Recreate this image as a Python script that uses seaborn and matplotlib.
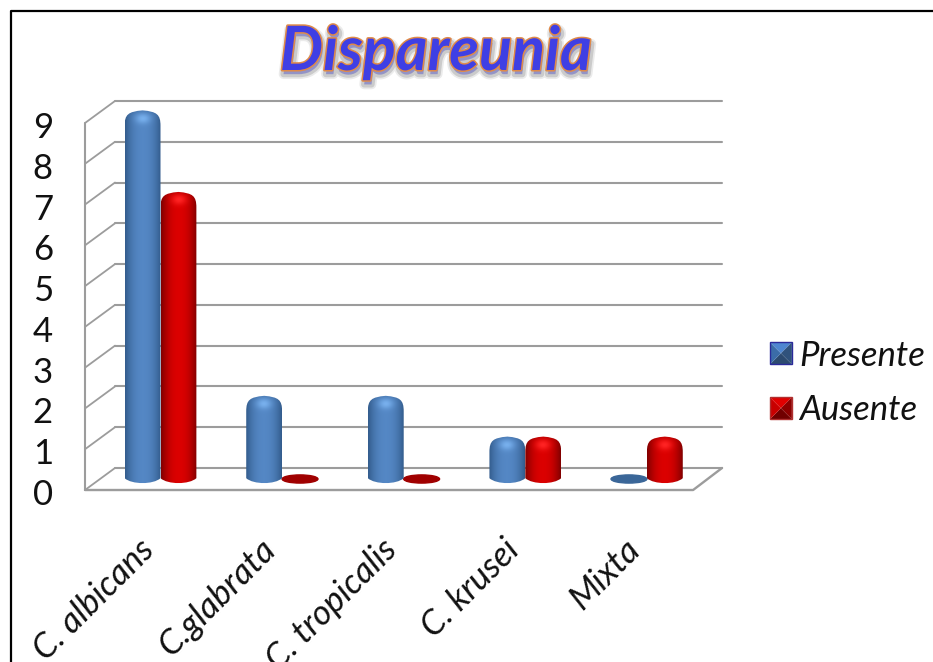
import matplotlib
matplotlib.use('Agg')
import matplotlib.pyplot as plt
import matplotlib.patheffects as pe
import matplotlib.transforms as mtrans
from matplotlib.legend_handler import HandlerBase
from matplotlib.lines import Line2D
from matplotlib.patches import Ellipse, PathPatch, Polygon, Rectangle
from matplotlib.path import Path
import numpy as np
import pandas as pd
import seaborn as sns

categories = ['C. albicans', 'C.glabrata', 'C. tropicalis', 'C. krusei', 'Mixta']
presente = [9, 2, 2, 1, 0]
ausente = [7, 0, 0, 1, 1]
series_names = ['Presente', 'Ausente']
y_ticks = [0, 1, 2, 3, 4, 5, 6, 7, 8, 9]

sns.set_theme(style='white')
plt.rcParams['font.family'] = ['Lato', 'DejaVu Sans']

W, H = 933, 662
PX_Y = 40.8      # pixels per unit on y
PX_X = 121.6     # pixels per category
DEPTH_Y = 0.27   # floor depth in y units
BACK_X = 115 / 121.6 - 160.5 / 121.6
FRONT_X = 85 / 121.6 - 160.5 / 121.6
GRID = '#9c9c9c'

BLUE = {'edge': (0.20, 0.36, 0.55), 'mid': (0.33, 0.53, 0.77), 'cap': (0.47, 0.69, 0.93), 'flat': '#3a6698'}
RED = {'edge': (0.50, 0.0, 0.0), 'mid': (0.86, 0.0, 0.0), 'cap': (1.0, 0.14, 0.14), 'flat': '#a00000'}
styles = {'Presente': BLUE, 'Ausente': RED}

df = pd.DataFrame({
    'cat': categories * 2,
    'serie': [series_names[0]] * 5 + [series_names[1]] * 5,
    'n': presente + ausente,
})

fig = plt.figure(figsize=(W / 100, H / 100), dpi=100, facecolor='white')
ax = fig.add_axes([(160.5 - PX_X / 2) / W, 1 - 479 / H, PX_X * 5 / W, (479 - 112) / H])
ax.patch.set_alpha(0)

sns.barplot(data=df, x='cat', y='n', hue='serie', hue_order=series_names, order=categories,
            width=0.59, gap=0, palette=['#4f81bd', '#d00000'], ax=ax, legend=False)


def cylinder(x0, x1, top):
    # bar outline: nearly flat dome and elliptical foot
    c = (x0 + x1) / 2
    w = x1 - x0
    top = top + 0.04
    sh = 0.38
    verts = [(x0, 0.02), (x0, top - sh),
             (x0, top - 0.1), (x0 + w * 0.1, top - 0.03), (c, top),
             (x1 - w * 0.1, top - 0.03), (x1, top - 0.1), (x1, top - sh),
             (x1, 0.02),
             (x1 - w * 0.2, -0.14), (x0 + w * 0.2, -0.14), (x0, 0.02),
             (x0, 0.02)]
    codes = [Path.MOVETO, Path.LINETO,
             Path.CURVE4, Path.CURVE4, Path.CURVE4,
             Path.CURVE4, Path.CURVE4, Path.CURVE4,
             Path.LINETO,
             Path.CURVE4, Path.CURVE4, Path.CURVE4,
             Path.CLOSEPOLY]
    return Path(verts, codes)


def shade(style, height_px):
    # left-right cylinder shading plus a glint on the cap
    nx, ny = 72, max(int(height_px), 10)
    u = np.linspace(-1, 1, nx)[None, :]
    d = np.linspace(-1, height_px + 6, ny)[:, None]   # px below the top
    side = np.clip(np.abs(u) ** 2.2, 0, 1)
    img = np.zeros((ny, nx, 3))
    for i in range(3):
        img[:, :, i] = style['mid'][i] * (1 - side) + style['edge'][i] * side
    glint = np.exp(-((u / 0.4) ** 2) - ((d - 8) / 5.0) ** 2)[:, :, None]
    rim = np.exp(-(d / 3.5) ** 2)[:, :, None]
    img = img * (1 - 0.3 * rim) + np.array(style['edge']) * 0.3 * rim
    img = img * (1 - glint) + np.array(style['cap']) * glint
    return img


for container, name in zip(ax.containers, series_names):
    st = styles[name]
    for bar in container:
        bar.set_visible(False)
        x0, x1 = bar.get_x(), bar.get_x() + bar.get_width()
        v = bar.get_height()
        if v == 0:
            ax.add_patch(Ellipse(((x0 + x1) / 2, 0.0), x1 - x0, 0.2, color=st['flat'], zorder=4, clip_on=False))
            continue
        patch = PathPatch(cylinder(x0, x1, v), fc='none', ec='none', transform=ax.transData)
        ax.add_patch(patch)
        im = ax.imshow(shade(st, v * PX_Y), extent=[x0, x1, -0.15, v + 0.07], aspect='auto',
                       origin='upper', zorder=5, interpolation='bilinear')
        im.set_clip_box(fig.bbox)
        im.set_clip_path(patch)

ax.set_xlim(-0.5, 4.5)
ax.set_ylim(0, 9)

# 3d looking walls and floor
for v in range(0, 10):
    ax.plot([BACK_X, 4.618], [v + DEPTH_Y, v + DEPTH_Y], color=GRID, lw=1.5, clip_on=False, zorder=1)
    ax.plot([FRONT_X, BACK_X], [v - DEPTH_Y, v + DEPTH_Y], color=GRID, lw=1.3, clip_on=False, zorder=1)
ax.plot([FRONT_X, FRONT_X], [-DEPTH_Y, 9 - DEPTH_Y], color=GRID, lw=1.5, clip_on=False, zorder=1)
ax.plot([FRONT_X, 4.38, 4.618], [-DEPTH_Y, -DEPTH_Y, DEPTH_Y], color=GRID, lw=1.7, clip_on=False, zorder=1)

sns.despine(ax=ax, left=True, bottom=True)
ax.set_xlabel('')
ax.set_ylabel('')

ax.set_yticks(y_ticks)
ax.set_yticklabels([str(t) for t in y_ticks], fontsize=25, color='#111111')
ax.tick_params(axis='y', length=0, pad=41)
shift = mtrans.ScaledTranslation(0, -13 / 100, fig.dpi_scale_trans)
for lab in ax.get_yticklabels():
    lab.set_transform(lab.get_transform() + shift)
    lab.set_horizontalalignment('center')

ax.set_xticks(range(5))
ax.set_xticklabels(categories, fontsize=25, style='italic', rotation=45, ha='right',
                   rotation_mode='anchor', color='#111111')
ax.tick_params(axis='x', length=0, pad=39)
shift_x = mtrans.ScaledTranslation(-23 / 100, 0, fig.dpi_scale_trans)
for lab in ax.get_xticklabels():
    lab.set_transform(lab.get_transform() + shift_x)


class PyramidHandler(HandlerBase):
    def __init__(self, colors, **kw):
        super().__init__(**kw)
        self.colors = colors

    def create_artists(self, legend, orig, xd, yd, w, h, fs, trans):
        s = min(w, h)
        x0, y0 = xd * -1 + (w - s) / 2, -yd + (h - s) / 2
        c = (x0 + s / 2, y0 + s / 2)
        a, b, d, e = (x0, y0), (x0 + s, y0), (x0 + s, y0 + s), (x0, y0 + s)
        out = []
        for pts, col in zip([(e, d), (d, b), (b, a), (a, e)], self.colors):
            out.append(Polygon([pts[0], pts[1], c], closed=True, fc=col, ec='none', transform=trans))
        out.append(Rectangle(a, s, s, fc='none', ec=self.colors[4], lw=1.0, transform=trans))
        return out


handles = [Rectangle((0, 0), 1, 1), Rectangle((0, 0), 1, 1)]
leg = fig.legend(handles, series_names, loc='center left', bbox_to_anchor=(770 / W, 1 - 383 / H),
                 frameon=False, fontsize=25, handlelength=0.63, handleheight=0.63, handletextpad=0.2,
                 labelspacing=0.66, borderpad=0, borderaxespad=0,
                 handler_map={handles[0]: PyramidHandler(['#4f86d0', '#30527c', '#2c4a70', '#3b6ca8', '#2a2a9a']),
                              handles[1]: PyramidHandler(['#e00000', '#8c0000', '#700000', '#c80000', '#b03030'])})
for t in leg.get_texts():
    t.set_fontstyle('italic')
    t.set_color('#111111')

# title with its glow and soft shadow
fig.text(436 / W, 1 - 52 / H, 'Dispareunia', fontsize=44, fontweight='bold', style='italic',
         ha='center', va='center', color='#3f3fe4',
         path_effects=[pe.Stroke(linewidth=7, foreground='#b0b0b0', alpha=0.25, offset=(1, -3)),
                       pe.Stroke(linewidth=4.5, foreground='#909090', alpha=0.35, offset=(1, -3)),
                       pe.Stroke(linewidth=2.2, foreground='#e08a48'),
                       pe.Normal()])

# frame around the picture, cut off at right and bottom
fig.add_artist(Line2D([11 / W, 11 / W, 1], [0, 1 - 11 / H, 1 - 11 / H], color='black', lw=1.6))

plt.savefig('out.png', dpi=100)
plt.close()
